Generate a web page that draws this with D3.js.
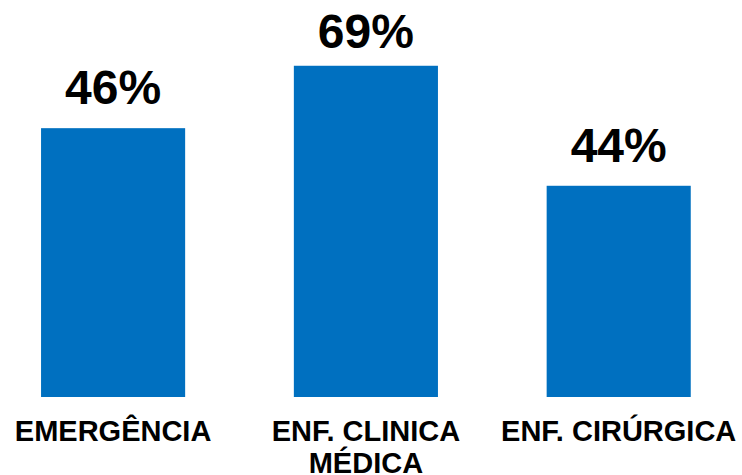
<!DOCTYPE html>
<html>
<head>
<meta charset="utf-8">
<script src="https://cdn.jsdelivr.net/npm/d3@7/dist/d3.min.js"></script>
<style>
  html, body { margin: 0; padding: 0; background: #fff; }
  svg { display: block; }
  text { font-family: Arial, "Liberation Sans", sans-serif; font-weight: bold; fill: #000; }
</style>
</head>
<body>
<svg id="chart" width="742" height="475"></svg>
<script>
// Categories (multi-line labels split by line)
const categories = ["EMERGÊNCIA", "ENF. CLINICA MÉDICA", "ENF. CIRÚRGICA"];
const categoryLines = [["EMERGÊNCIA"], ["ENF. CLINICA", "MÉDICA"], ["ENF. CIRÚRGICA"]];
// Bar heights as drawn in the reference (percent)
const barValues = [56, 69, 44];
// Data labels as printed above the bars
const valueLabels = ["46%", "69%", "44%"];

const width = 742, height = 475;
const baseline = 397;

const svg = d3.select("#chart");

const x = d3.scaleBand()
  .domain(categories)
  .range([0.6, 731.2])
  .paddingInner(0.43)
  .paddingOuter(0.16);

const y = d3.scaleLinear()
  .domain([0, 82.7])
  .range([baseline, 0]);

const data = categories.map((c, i) => ({ cat: c, v: barValues[i], label: valueLabels[i], lines: categoryLines[i] }));

svg.append("g")
  .selectAll("rect")
  .data(data)
  .join("rect")
  .attr("x", d => x(d.cat))
  .attr("y", d => y(d.v))
  .attr("width", x.bandwidth())
  .attr("height", d => y(0) - y(d.v))
  .attr("fill", "#0070C0");

// value labels
svg.append("g")
  .selectAll("text")
  .data(data)
  .join("text")
  .attr("x", d => x(d.cat) + x.bandwidth() / 2)
  .attr("y", d => Math.max(y(d.v) - 24, 48))
  .attr("text-anchor", "middle")
  .style("font-size", "48px")
  .text(d => d.label);

// category axis (ticks hidden; labels drawn as multi-line text)
const xAxis = d3.axisBottom(x).tickSize(0).tickFormat("");
const axisG = svg.append("g")
  .attr("transform", `translate(0,${baseline})`)
  .call(xAxis);
axisG.select(".domain").remove();

const tickLabels = svg.append("g")
  .selectAll("text")
  .data(data)
  .join("text")
  .attr("x", d => x(d.cat) + x.bandwidth() / 2)
  .attr("y", 441)
  .attr("text-anchor", "middle")
  .style("font-size", "29px");

tickLabels.selectAll("tspan")
  .data(d => d.lines.map(l => ({ l, cx: x(d.cat) + x.bandwidth() / 2 })))
  .join("tspan")
  .attr("x", d => d.cx)
  .attr("dy", (d, i) => i === 0 ? 0 : 32)
  .text(d => d.l);
</script>
</body>
</html>
